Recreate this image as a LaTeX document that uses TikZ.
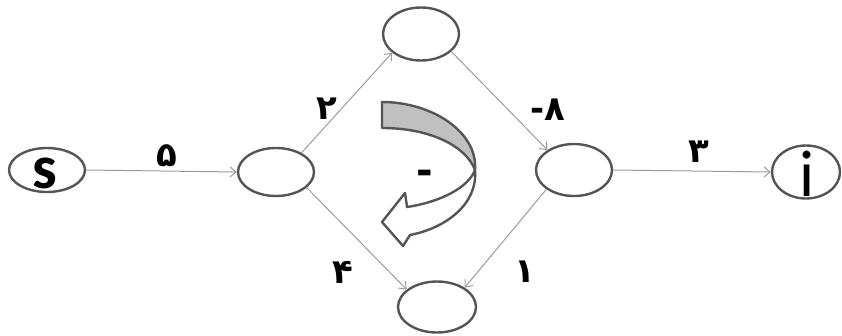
\documentclass[tikz,border=0pt]{standalone}
\usepackage{fontspec}
\setmainfont{DejaVu Sans}
\newfontfamily\letterfont{Carlito}
\usetikzlibrary{arrows.meta,shapes.geometric}
\definecolor{ringc}{RGB}{85,85,85}
\definecolor{edgec}{RGB}{155,155,155}
\definecolor{bandc}{RGB}{192,192,192}
\tikzset{
  vtx/.style={ellipse, draw=ringc, line width=2.4pt, inner sep=0pt},
  edg/.style={draw=edgec, line width=1pt, -{Straight Barb[length=6pt,width=10pt]}},
  wlab/.style={font=\bfseries\fontsize{34}{34}\selectfont, inner sep=0pt},
  vlab/.style={inner sep=0pt, anchor=base},
  ribbon/.style={draw=ringc, line width=2.4pt, line join=round}
}
\begin{document}
\begin{tikzpicture}[x=1pt,y=-1pt]
\useasboundingbox (0,0) rectangle (842,335);
% nodes
\node[vtx, minimum width=76pt, minimum height=44pt] (s) at (47,170) {};
\node[vtx, minimum width=76pt, minimum height=48pt] (a) at (276,172) {};
\node[vtx, minimum width=76pt, minimum height=53pt] (t) at (421,34) {};
\node[vtx, minimum width=78pt, minimum height=51pt] (m) at (437,307) {};
\node[vtx, minimum width=76pt, minimum height=52pt] (b) at (574,170) {};
\node[vtx, minimum width=68pt, minimum height=53pt] (i) at (806,172) {};
\node[vlab, font=\letterfont\bfseries\fontsize{62}{62}\selectfont] (sl) at (45,188) {s};
\node[vlab, font=\letterfont\fontsize{66}{66}\selectfont] (il) at (807,196) {i};
% edges
\draw[edg] (s.east) -- (a.west);
\draw[edg] (a.37) -- (t.-147);
\draw[edg] (t.-30) -- (b.143);
\draw[edg] (a.-27) -- (m.150);
\draw[edg] (b.215) -- (m.35);
\draw[edg] (b.east) -- (i.west);
% weights
\node[wlab] (w1) at (167,156) {۵};
\node[wlab] (w2) at (327,109) {۲};
\node[wlab] (w3) at (548,110) {-۸};
\node[wlab] (w4) at (699,152) {۳};
\node[wlab] (w5) at (343,272) {۴};
\node[wlab] (w6) at (525,272) {۱};
% curved arrow: back (gray) band
\path[ribbon, fill=bandc] (382,102) .. controls (432,102) and (478,132) .. (475,170)
  .. controls (466,146) and (430,128) .. (382,128) -- cycle;
% front (white) part with arrow head
\path[ribbon, fill=white] (475,170) .. controls (478,204) and (446,228) .. (410,235)
  -- (403,246) -- (382,222) -- (405,193) -- (407,207)
  .. controls (440,202) and (468,188) .. (475,170) -- cycle;
\node[font=\bfseries\fontsize{40}{40}\selectfont, inner sep=0pt] (minus) at (425,177) {-};
\end{tikzpicture}
\end{document}
